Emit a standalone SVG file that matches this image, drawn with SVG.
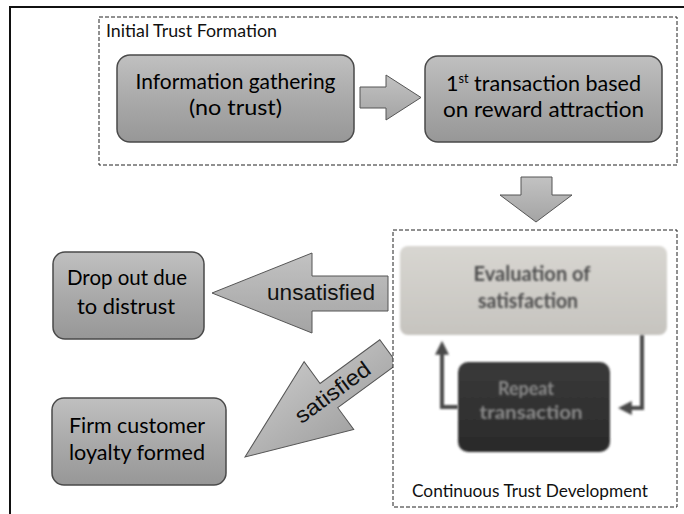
<svg xmlns="http://www.w3.org/2000/svg" width="684" height="514" viewBox="0 0 684 514">
<defs>
<linearGradient id="gNode" x1="0" y1="0" x2="0" y2="1">
<stop offset="0" stop-color="#c0c0c0"/>
<stop offset="0.5" stop-color="#aaaaaa"/>
<stop offset="1" stop-color="#979797"/>
</linearGradient>
<linearGradient id="gArrow" x1="0" y1="0" x2="0" y2="1">
<stop offset="0" stop-color="#c2c2c2"/>
<stop offset="1" stop-color="#a4a4a4"/>
</linearGradient>
<linearGradient id="gEval" x1="0" y1="0" x2="0" y2="1">
<stop offset="0" stop-color="#d8d6d1"/>
<stop offset="1" stop-color="#c6c4bf"/>
</linearGradient>
<linearGradient id="gRepeat" x1="0" y1="0" x2="0" y2="1">
<stop offset="0" stop-color="#3a3a3a"/>
<stop offset="1" stop-color="#2a2a2a"/>
</linearGradient>
<filter id="blur" x="-10%" y="-10%" width="120%" height="120%">
<feGaussianBlur stdDeviation="1.3"/>
</filter>
<filter id="blurT" x="-10%" y="-30%" width="120%" height="160%">
<feGaussianBlur stdDeviation="0.9"/>
</filter>
<marker id="mh" viewBox="0 0 10 10" refX="7" refY="5" markerWidth="3.5" markerHeight="3.5" orient="auto-start-reverse">
<path d="M0,0 L10,5 L0,10 z" fill="#4a4a4a"/>
</marker>
</defs>
<style>
.frame{fill:none;stroke:#111;stroke-width:2}
.dash{fill:#fff;stroke:#222;stroke-width:1;stroke-dasharray:4 2}
.node{fill:url(#gNode);stroke:#4a4a4a;stroke-width:1.5}
.arrow{fill:url(#gArrow);stroke:#555;stroke-width:1}
.t{font-family:Lato,"Open Sans","DejaVu Sans",sans-serif;fill:#000;text-anchor:middle}
.tl{font-family:Lato,"Open Sans","DejaVu Sans",sans-serif;fill:#111}
.lab{font-family:"Liberation Sans",Arial,sans-serif;fill:#111;text-anchor:middle}
.fb{fill:none;stroke:#4a4a4a;stroke-width:4}
.blurtxt{font-weight:bold}
</style>
<rect width="684" height="514" fill="#fff"/>
<path class="frame" d="M10,514 V7 H684"/>

<g id="connectors">
<g id="arrow-satisfied" transform="translate(245,457) rotate(-36.2)">
<polygon class="arrow" points="0,0 104,-42 104,-15 178,-15 178,15 104,15 104,42"/>
<text class="lab" x="109" y="7" font-size="22" textLength="88" lengthAdjust="spacingAndGlyphs">satisfied</text>
</g>
</g>

<g id="initial-trust-formation">
<rect class="dash" x="99" y="17" width="578" height="148"/>
<text class="tl" x="106" y="37" font-size="17" textLength="171" lengthAdjust="spacingAndGlyphs">Initial Trust Formation</text>
</g>

<g id="continuous-trust-development">
<rect class="dash" x="393" y="230" width="284" height="277"/>
<text class="tl" x="412" y="497" font-size="18" textLength="236" lengthAdjust="spacingAndGlyphs">Continuous Trust Development</text>
</g>

<g id="info-gathering">
<rect class="node" x="117" y="55" width="237" height="87" rx="13"/>
<text class="t" x="235.5" y="89" font-size="22" textLength="200" lengthAdjust="spacingAndGlyphs">Information gathering</text>
<text class="t" x="235.5" y="115" font-size="22" textLength="93" lengthAdjust="spacingAndGlyphs">(no trust)</text>
</g>

<g id="first-transaction">
<rect class="node" x="425" y="56" width="237" height="86" rx="13"/>
<text class="t" x="543.5" y="91" font-size="22" textLength="195" lengthAdjust="spacingAndGlyphs">1<tspan font-size="13" dy="-8">st</tspan><tspan dy="8"> transaction based</tspan></text>
<text class="t" x="543.5" y="117" font-size="22" textLength="201" lengthAdjust="spacingAndGlyphs">on reward attraction</text>
</g>

<g id="evaluation">
<rect x="400" y="246" width="267" height="89" rx="8" fill="url(#gEval)" filter="url(#blur)"/>
<text class="t blurtxt" x="532" y="281" font-size="20" style="fill:#4e4e4e" textLength="117" lengthAdjust="spacingAndGlyphs" filter="url(#blurT)">Evaluation of</text>
<text class="t blurtxt" x="528" y="308" font-size="20" style="fill:#4e4e4e" textLength="100" lengthAdjust="spacingAndGlyphs" filter="url(#blurT)">satisfaction</text>
</g>

<g id="repeat-transaction">
<rect x="458" y="362" width="152" height="90" rx="10" fill="url(#gRepeat)" filter="url(#blur)"/>
<text class="t blurtxt" x="526" y="395" font-size="19" style="fill:#8a8a8a" textLength="56" lengthAdjust="spacingAndGlyphs" filter="url(#blurT)">Repeat</text>
<text class="t blurtxt" x="531" y="419" font-size="19" style="fill:#8a8a8a" textLength="103" lengthAdjust="spacingAndGlyphs" filter="url(#blurT)">transaction</text>
</g>

<g id="drop-out">
<rect class="node" x="53" y="252" width="151" height="87" rx="12"/>
<text class="t" x="127" y="285" font-size="22" textLength="120" lengthAdjust="spacingAndGlyphs">Drop out due</text>
<text class="t" x="126" y="314" font-size="22" textLength="98" lengthAdjust="spacingAndGlyphs">to distrust</text>
</g>

<g id="firm-loyalty">
<rect class="node" x="52" y="398" width="174" height="87" rx="12"/>
<text class="t" x="137" y="433" font-size="22" textLength="136" lengthAdjust="spacingAndGlyphs">Firm customer</text>
<text class="t" x="137" y="460" font-size="22" textLength="136" lengthAdjust="spacingAndGlyphs">loyalty formed</text>
</g>

<g id="connectors-main">
<polygon id="arrow-info-to-first" class="arrow" points="360,87 386,87 386,75 421,97.5 386,120 386,108 360,108"/>
<polygon id="arrow-down" class="arrow" points="521,177 552,177 552,195 572,195 536,222 500,195 521,195"/>
<g id="arrow-unsatisfied">
<polygon class="arrow" points="212,293 312,253 312,276 388,276 388,311 312,311 312,333"/>
<text class="lab" x="321" y="300" font-size="22" textLength="108" lengthAdjust="spacingAndGlyphs">unsatisfied</text>
</g>
<g id="feedback-loop" filter="url(#blurT)">
<path class="fb" d="M458,407 H442 V345" marker-end="url(#mh)"/>
<path class="fb" d="M642,335 V408 H622" marker-end="url(#mh)"/>
</g>
</g>
</svg>
